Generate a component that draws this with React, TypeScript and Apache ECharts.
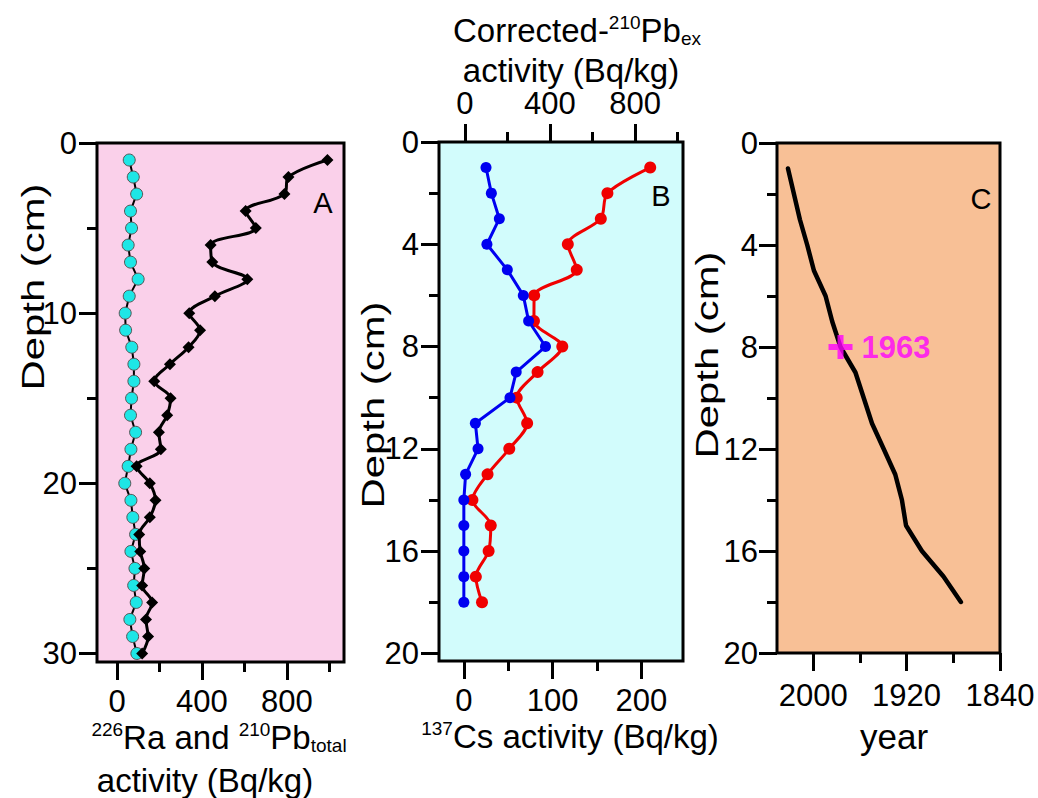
import React, { useEffect, useRef } from "react";
import * as echarts from "echarts";

const FONT = "'Liberation Sans', Arial, sans-serif";

// Panel A: depth (cm) vs activity (Bq/kg)
const depthA = [1, 2, 3, 4, 5, 6, 7, 8, 9, 10, 11, 12, 13, 14, 15, 16, 17, 18, 19, 20, 21, 22, 23, 24, 25, 26, 27, 28, 29, 30];
const ra226A = [57, 76, 92, 63, 68, 52, 63, 99, 57, 38, 40, 69, 79, 79, 68, 63, 87, 65, 52, 36, 65, 74, 87, 65, 84, 78, 90, 60, 73, 93];
const pb210totalA = [992, 808, 789, 606, 654, 441, 449, 614, 461, 340, 391, 337, 249, 175, 252, 236, 197, 206, 92, 154, 181, 154, 104, 109, 128, 118, 165, 136, 146, 118];

// Panel B
const depthB = [1, 2, 3, 4, 5, 6, 7, 8, 9, 10, 11, 12, 13, 14, 15, 16, 17, 18];
const cs137B = [25, 31, 40, 26, 49, 67, 73, 92, 59, 52, 13, 16, 2, 0, 0, 0, 0, 0];
const pb210exB = [871, 670, 639, 484, 526, 326, 325, 458, 342, 244, 293, 209, 107, 36, 122, 112, 52, 81];

// Panel C
const depthC = [1, 2, 3, 4, 5, 6, 7, 8, 9, 10, 11, 12, 13, 14, 15, 16, 17, 18];
const yearC = [2021.6, 2016.5, 2011.4, 2005.1, 1999.4, 1989.4, 1983.7, 1976.6, 1963.8, 1956.7, 1949.6, 1939.6, 1929.7, 1924, 1920.5, 1906.9, 1888.4, 1873.5];
const markerDepth = 8;
const markerLabel = "1963";

// Tick values
const ticksAxMajor = [0, 400, 800];
const ticksAxMinor = [200, 600, 1000];
const ticksAyMajor = [0, 10, 20, 30];
const ticksAyMinor = [5, 15, 25];
const ticksBxMajor = [0, 100, 200];
const ticksBxMinor = [50, 150];
const ticksBtopMajor = [0, 400, 800];
const ticksBtopMinor = [200, 600, 1000];
const ticksDepthMajor = [0, 4, 8, 12, 16, 20];
const ticksDepthMinor = [2, 6, 10, 14, 18];
const ticksCxMajor = [2000, 1920, 1840];
const ticksCxMinor = [1960, 1880];

const TICK_FONT = 31;
const TITLE_FONT = 33;

function majorAxis(gridIndex: number, position: string, min: number, max: number, ticks: number[], margin: number, inverse = false) {
  return {
    type: "value",
    gridIndex,
    position,
    min,
    max,
    inverse,
    axisLine: { show: false, onZero: false },
    splitLine: { show: false },
    axisTick: { show: true, inside: false, length: 18, customValues: ticks, lineStyle: { color: "#000", width: 3 } },
    axisLabel: {
      show: true,
      customValues: ticks,
      margin,
      fontSize: TICK_FONT,
      color: "#000",
      fontFamily: FONT,
      formatter: (v: number) => String(v),
    },
  };
}

function minorAxis(gridIndex: number, position: string, min: number, max: number, ticks: number[], inverse = false) {
  return {
    type: "value",
    gridIndex,
    position,
    min,
    max,
    inverse,
    axisLine: { show: false, onZero: false },
    splitLine: { show: false },
    axisTick: { show: true, inside: false, length: 10, customValues: ticks, lineStyle: { color: "#000", width: 3 } },
    axisLabel: { show: false },
  };
}

function txt(text: string, x: number, y: number, size: number, extra: any = {}) {
  return {
    type: "text",
    x,
    y,
    rotation: extra.rotation || 0,
    scaleX: extra.scaleX || 1,
    scaleY: extra.scaleY || 1,
    style: {
      text,
      fill: extra.fill || "#000",
      fontSize: size,
      fontFamily: FONT,
      fontWeight: extra.fontWeight || "normal",
      align: "center",
      verticalAlign: "middle",
      textAlign: "center",
      textVerticalAlign: "middle",
      rich: extra.rich,
    },
  };
}

function richSet(main: number, small: number) {
  return {
    m: { fontSize: main, lineHeight: main + 2, fontFamily: FONT, fill: "#000", color: "#000" },
    sup: { fontSize: small, lineHeight: small, verticalAlign: "top", fontFamily: FONT, fill: "#000", color: "#000" },
    sub: { fontSize: small, lineHeight: small, verticalAlign: "bottom", fontFamily: FONT, fill: "#000", color: "#000" },
  };
}

export default function App() {
  const ref = useRef<HTMLDivElement>(null);
  useEffect(() => {
    if (!ref.current) return;
    const chart = echarts.init(ref.current, undefined, { renderer: "svg" });
    const plusPath = "path://M9,0h6v9h9v6h-9v9h-6v-9h-9v-6h9z";
    const depthLabel = { rotation: Math.PI / 2, scaleX: 1.35 };
    const option: any = {
      animation: false,
      backgroundColor: "#fff",
      grid: [
        { left: 97, top: 143, width: 247, height: 519, show: true, backgroundColor: "#FAD0EA", borderColor: "#000", borderWidth: 3 },
        { left: 439, top: 142, width: 244, height: 519, show: true, backgroundColor: "#D2FCFC", borderColor: "#000", borderWidth: 3 },
        { left: 777, top: 143, width: 223, height: 510, show: true, backgroundColor: "#F8C096", borderColor: "#000", borderWidth: 3 },
      ],
      xAxis: [
        majorAxis(0, "bottom", -95, 1070, ticksAxMajor, 24),
        minorAxis(0, "bottom", -95, 1070, ticksAxMinor),
        majorAxis(1, "bottom", -28, 247, ticksBxMajor, 24),
        minorAxis(1, "bottom", -28, 247, ticksBxMinor),
        majorAxis(1, "top", -121, 1025, ticksBtopMajor, 23),
        minorAxis(1, "top", -121, 1025, ticksBtopMinor),
        majorAxis(2, "bottom", 1840, 2031, ticksCxMajor, 27, true),
        minorAxis(2, "bottom", 1840, 2031, ticksCxMinor, true),
      ],
      yAxis: [
        majorAxis(0, "left", 0, 30.5, ticksAyMajor, 20, true),
        minorAxis(0, "left", 0, 30.5, ticksAyMinor, true),
        majorAxis(1, "left", 0, 20.3, ticksDepthMajor, 20, true),
        minorAxis(1, "left", 0, 20.3, ticksDepthMinor, true),
        majorAxis(2, "left", 0, 20, ticksDepthMajor, 19, true),
        minorAxis(2, "left", 0, 20, ticksDepthMinor, true),
      ],
      series: [
        {
          type: "line",
          xAxisIndex: 0,
          yAxisIndex: 0,
          data: depthA.map((d, i) => [ra226A[i], d]),
          symbol: "circle",
          symbolSize: 12,
          itemStyle: { color: "#1EE6E6", borderColor: "#555", borderWidth: 1 },
          lineStyle: { color: "#000", width: 2 },
          z: 2,
        },
        {
          type: "line",
          xAxisIndex: 0,
          yAxisIndex: 0,
          data: depthA.map((d, i) => [pb210totalA[i], d]),
          symbol: "diamond",
          symbolSize: 12,
          smooth: 0.35,
          itemStyle: { color: "#000" },
          lineStyle: { color: "#000", width: 3 },
          z: 3,
        },
        {
          type: "line",
          xAxisIndex: 2,
          yAxisIndex: 2,
          data: depthB.map((d, i) => [cs137B[i], d]),
          symbol: "circle",
          symbolSize: 11,
          itemStyle: { color: "#0000F0" },
          lineStyle: { color: "#0000F0", width: 3 },
          z: 3,
        },
        {
          type: "line",
          xAxisIndex: 4,
          yAxisIndex: 2,
          data: depthB.map((d, i) => [pb210exB[i], d]),
          symbol: "circle",
          symbolSize: 12,
          smooth: 0.3,
          itemStyle: { color: "#F00000" },
          lineStyle: { color: "#F00000", width: 3 },
          z: 2,
        },
        {
          type: "line",
          xAxisIndex: 6,
          yAxisIndex: 4,
          data: depthC.map((d, i) => [yearC[i], d]),
          symbol: "none",
          lineStyle: { color: "#000", width: 4.5, cap: "round" },
          z: 2,
        },
        {
          type: "scatter",
          xAxisIndex: 6,
          yAxisIndex: 4,
          data: [[yearC[depthC.indexOf(markerDepth)], markerDepth]],
          symbol: plusPath,
          symbolSize: 24,
          itemStyle: { color: "#FF00FF" },
          label: {
            show: true,
            position: "right",
            distance: 9,
            formatter: markerLabel,
            color: "#FF00FF",
            fontWeight: "bold",
            fontSize: 31,
            fontFamily: FONT,
          },
          z: 5,
        },
      ],
      graphic: [
        txt("Depth (cm)", 33, 287, 31, depthLabel),
        txt("Depth (cm)", 373, 405, 31, depthLabel),
        txt("Depth (cm)", 707, 355, 31, depthLabel),
        txt("A", 323, 203, 29),
        txt("B", 661, 196, 29),
        txt("C", 981, 199, 29),
        txt("{m|Corrected-}{sup|210}{m|Pb}{sub|ex}", 577, 30, TITLE_FONT, { rich: richSet(TITLE_FONT, 19) }),
        txt("activity (Bq/kg)", 571, 70, TITLE_FONT),
        txt("{sup|226}{m|Ra and }{sup|210}{m|Pb}{sub|total}", 219, 737, TITLE_FONT, { rich: richSet(TITLE_FONT, 19) }),
        txt("activity (Bq/kg)", 205, 780, TITLE_FONT),
        txt("{sup|137}{m|Cs activity (Bq/kg)}", 570, 736, TITLE_FONT, { rich: richSet(TITLE_FONT, 19) }),
        txt("year", 894, 736, 35),
      ],
    };
    chart.setOption(option);
    return () => chart.dispose();
  }, []);
  return <div ref={ref} style={{ position: "absolute", left: 0, top: 0, width: 1038, height: 798 }} />;
}
